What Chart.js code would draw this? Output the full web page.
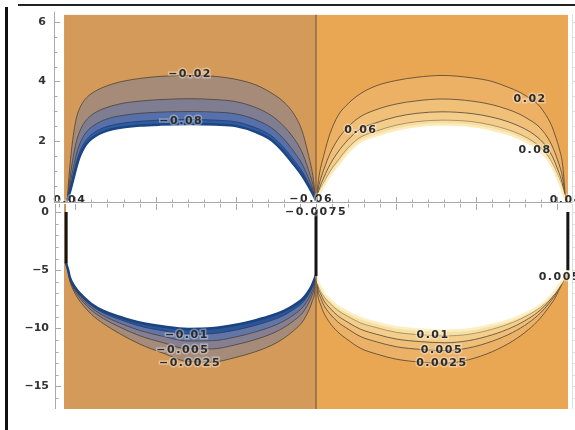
<!DOCTYPE html>
<html><head><meta charset="utf-8">
<script src="https://cdn.jsdelivr.net/npm/chart.js@4.4.1/dist/chart.umd.min.js"></script>
<style>
html,body{margin:0;padding:0;background:#fff;width:575px;height:430px;overflow:hidden;}
#wrap{position:relative;width:575px;height:430px;}
canvas{position:absolute;left:0;top:0;}
#bl{position:absolute;left:5px;top:7px;width:2.5px;height:423px;background:#111;}
#bt{position:absolute;left:18px;top:4px;width:557px;height:2px;background:#222;}
</style></head><body>
<div id="wrap"><canvas id="ctop" width="575" height="430"></canvas><canvas id="cbot" width="575" height="430"></canvas><div id="bl"></div><div id="bt"></div></div>
<script>
const PI = Math.PI;
// ---------- top plot (y >= 0) ----------
const TL_X    = [-3.1,-3.086,-3.067,-3.042,-3.011,-2.98,-2.943,-2.893,-2.83,-2.755,-2.656,-2.531,-2.381,-2.194,-1.945,-1.571,-1.259,-0.997,-0.748,-0.549,-0.399,-0.274,-0.175,-0.1,-0.04,0];
const TL_M002 = [0,0.6,1.2,1.85,2.45,2.85,3.12,3.35,3.53,3.67,3.8,3.92,4.02,4.1,4.17,4.2,4.17,4.07,3.88,3.6,3.3,2.9,2.35,1.6,0.85,0];
const TL_M004 = [0,0.37,0.77,1.23,1.7,2.06,2.34,2.6,2.8,2.95,3.08,3.19,3.28,3.34,3.39,3.42,3.39,3.32,3.12,2.84,2.49,2.08,1.63,1.08,0.55,0];
const TL_M006 = [0,0.24,0.53,0.89,1.29,1.63,1.92,2.19,2.4,2.55,2.69,2.8,2.87,2.93,2.97,2.99,2.97,2.91,2.71,2.43,2.06,1.64,1.24,0.8,0.38,0];
const TL_M008 = [0,0.16,0.38,0.67,1.02,1.35,1.65,1.92,2.14,2.3,2.44,2.54,2.61,2.66,2.7,2.72,2.7,2.64,2.44,2.16,1.77,1.35,0.99,0.62,0.28,0];
const TL_EDGE = [0,0.12,0.3,0.55,0.88,1.2,1.5,1.78,2.0,2.16,2.3,2.4,2.47,2.52,2.55,2.57,2.55,2.5,2.3,2.02,1.62,1.2,0.85,0.52,0.22,0];

const TR_X    = [0,0.04,0.1,0.175,0.274,0.399,0.549,0.748,0.997,1.259,1.571,1.945,2.194,2.381,2.531,2.656,2.755,2.83,2.893,2.943,2.98,3.011,3.042,3.067,3.086,3.11];
const TR_P002 = [0,0.85,1.55,2.25,2.85,3.25,3.58,3.85,4.03,4.14,4.2,4.12,4.0,3.82,3.65,3.45,3.26,3.02,2.75,2.48,2.2,1.95,1.65,1.35,0.9,0];
const TR_P004 = [0,0.55,1.06,1.58,2.06,2.47,2.81,3.05,3.24,3.35,3.41,3.34,3.22,3.07,2.91,2.72,2.54,2.33,2.09,1.84,1.6,1.37,1.12,0.87,0.55,0];
const TR_P006 = [0,0.38,0.79,1.21,1.63,2.04,2.4,2.61,2.81,2.93,2.98,2.92,2.8,2.66,2.5,2.33,2.14,1.95,1.74,1.5,1.28,1.06,0.84,0.61,0.37,0];
const TR_P008 = [0,0.28,0.61,0.98,1.35,1.77,2.12,2.33,2.53,2.65,2.7,2.65,2.53,2.39,2.24,2.07,1.89,1.71,1.5,1.27,1.06,0.86,0.65,0.44,0.24,0];
const TR_EDGE = [0,0.22,0.52,0.85,1.2,1.62,1.98,2.18,2.38,2.5,2.55,2.5,2.38,2.25,2.1,1.93,1.75,1.58,1.38,1.15,0.95,0.75,0.55,0.35,0.18,0];

// ---------- bottom plot (y <= 0) ----------
const BL_X     = [-3.12,-3.09,-3.07,-3.03,-2.98,-2.9,-2.8,-2.65,-2.45,-2.2,-1.9,-1.6,-1.3,-1.0,-0.75,-0.55,-0.4,-0.27,-0.17,-0.1,-0.05,-0.015,0];
const BL_EDGE  = [-4.3,-5.0,-5.6,-6.2,-6.7,-7.3,-7.9,-8.5,-9.0,-9.5,-9.85,-10.05,-10.0,-9.7,-9.3,-8.9,-8.5,-8.0,-7.5,-6.9,-6.3,-5.7,-5.4];
const BL_M01   = [-4.3,-5.02,-5.65,-6.27,-6.8,-7.42,-8.04,-8.68,-9.23,-9.8,-10.22,-10.5,-10.46,-10.15,-9.73,-9.31,-8.88,-8.34,-7.81,-7.17,-6.53,-5.88,-5.4];
const BL_M0075 = [-4.3,-5.06,-5.71,-6.37,-6.92,-7.58,-8.23,-8.91,-9.54,-10.18,-10.7,-11.09,-11.07,-10.74,-10.3,-9.84,-9.37,-8.8,-8.22,-7.53,-6.84,-6.11,-5.4];
const BL_M005  = [-4.3,-5.09,-5.78,-6.47,-7.07,-7.76,-8.45,-9.17,-9.88,-10.63,-11.25,-11.76,-11.77,-11.41,-10.95,-10.46,-9.93,-9.31,-8.69,-7.94,-7.18,-6.37,-5.4];
const BL_M0025 = [-4.3,-5.15,-5.9,-6.65,-7.3,-8.05,-8.8,-9.6,-10.45,-11.35,-12.15,-12.85,-12.9,-12.5,-12.0,-11.45,-10.85,-10.15,-9.45,-8.6,-7.75,-6.8,-5.4];

const BR_X     = [0,0.02,0.06,0.1,0.17,0.27,0.4,0.55,0.75,1.0,1.3,1.6,1.9,2.2,2.45,2.65,2.8,2.9,2.98,3.03,3.07,3.1,3.14];
const BR_EDGE  = [-5.4,-5.9,-6.5,-7.0,-7.5,-8.1,-8.6,-9.1,-9.5,-9.9,-10.1,-10.2,-10.1,-9.7,-9.2,-8.6,-8.0,-7.4,-6.8,-6.3,-5.9,-5.5,-4.9];
const BR_P01   = [-5.4,-6.08,-6.74,-7.27,-7.82,-8.45,-8.98,-9.52,-9.93,-10.34,-10.55,-10.65,-10.52,-10.07,-9.5,-8.84,-8.18,-7.53,-6.9,-6.36,-5.94,-5.52,-4.9];
const BR_P0075 = [-5.4,-6.31,-7.06,-7.63,-8.24,-8.91,-9.49,-10.06,-10.5,-10.92,-11.14,-11.24,-11.06,-10.55,-9.9,-9.16,-8.41,-7.7,-7.02,-6.45,-5.99,-5.54,-4.9];
const BR_P005  = [-5.4,-6.57,-7.42,-8.04,-8.72,-9.44,-10.06,-10.69,-11.15,-11.58,-11.81,-11.91,-11.69,-11.1,-10.36,-9.52,-8.67,-7.89,-7.17,-6.54,-6.05,-5.56,-4.9];
const BR_P0025 = [-5.4,-7.0,-8.0,-8.7,-9.5,-10.3,-11.0,-11.7,-12.2,-12.65,-12.9,-13.0,-12.7,-12.0,-11.1,-10.1,-9.1,-8.2,-7.4,-6.7,-6.15,-5.6,-4.9];

// contour labels
const TOP_LABELS  = ['\u22120.02','\u22120.08','0.04','\u22120.06','0.02','0.06','0.08','0.04'];
const TOP_LABEL_X = [-1.57,-1.68,-3.07,-0.06,2.67,0.56,2.73,3.12];
const TOP_LABEL_Y = [4.23,2.68,0.03,0.05,3.39,2.38,1.7,0.03];
const BOT_LABELS  = ['\u22120.0075','\u22120.01','\u22120.005','\u22120.0025','0.01','0.005','0.0025','0.005'];
const BOT_LABEL_X = [0.0,-1.61,-1.66,-1.57,1.46,1.57,1.57,3.04];
const BOT_LABEL_Y = [-0.05,-10.6,-11.9,-12.95,-10.6,-11.9,-13.0,-5.6];

// axes
const X_TICKS = [-3.2,-3,-2.8,-2.6,-2.4,-2.2,-2,-1.8,-1.6,-1.4,-1.2,-1,-0.8,-0.6,-0.4,-0.2,0,0.2,0.4,0.6,0.8,1,1.2,1.4,1.6,1.8,2,2.2,2.4,2.6,2.8,3];
const TOP_Y_TICKS = [0,0.5,1,1.5,2,2.5,3,3.5,4,4.5,5,5.5,6];
const TOP_Y_LABELED = [0,2,4,6];
const BOT_Y_TICKS = [0,-1,-2,-3,-4,-5,-6,-7,-8,-9,-10,-11,-12,-13,-14,-15,-16];
const BOT_Y_LABELED = [0,-5,-10,-15];
const YT_MIN = -0.081, YT_MAX = 6.243;
const YB_MIN = -16.935, YB_MAX = 0.688;
const XT_MIN = -3.2666, XT_MAX = 3.1916;
const XB_MIN = -3.254,  XB_MAX = 3.1916;

// ---------- helpers ----------
function pts(xs, ys){ return xs.map((x,i)=>({x:x, y:ys[i]})); }
function band(xs, ys, fillColor, fillTo, lineColor, lw){
  return {data: pts(xs,ys), backgroundColor: fillColor, fill: fillTo,
    borderColor: lineColor || 'rgba(0,0,0,0)', borderWidth: lw || 1,
    pointRadius: 0, cubicInterpolationMode: 'monotone', clip: 0};
}
function seg(xs, ys, color, lw){
  return {data: pts(xs,ys), fill: false, borderColor: color, borderWidth: lw,
    pointRadius: 0, tension: 0, clip: 0, borderCapStyle: 'butt'};
}
function ordered(list){ list.forEach((d,i)=>{ d.order = -i; }); return list; }
function fmt(v){ return String(v).replace('-', '\u2212'); }
function isMult(v, m){ return Math.abs(v/m - Math.round(v/m)) < 1e-6; }
function L(ctx,x1,y1,x2,y2){ ctx.beginPath(); ctx.moveTo(x1,y1); ctx.lineTo(x2,y2); ctx.stroke(); }

const CLINE = 'rgba(70,60,52,0.75)';
const TAN = '#d49a5a', ORANGE = '#e9a653';

function labelPlugin(texts, xs, ys){
  return { id: 'contourLabels', afterDatasetsDraw(chart){
    const {ctx, scales:{x, y}} = chart;
    ctx.save();
    ctx.font = 'bold 11px "DejaVu Sans"';
    ctx.letterSpacing = '1.5px';
    ctx.textAlign = 'center'; ctx.textBaseline = 'middle';
    texts.forEach((t,i)=>{
      const px = x.getPixelForValue(xs[i]), py = y.getPixelForValue(ys[i]);
      ctx.lineWidth = 3; ctx.strokeStyle = 'rgba(255,255,255,0.35)';
      ctx.strokeText(t, px, py);
      ctx.fillStyle = '#2c2c2c';
      ctx.fillText(t, px, py);
    });
    ctx.restore();
  }};
}

function framePlugin(isTop, majorY){
  return { id: 'frame', afterDraw(chart){
    const {ctx, chartArea: a, scales:{x, y}} = chart;
    ctx.save();
    ctx.lineWidth = 1; ctx.strokeStyle = '#a9a9a9';
    L(ctx, a.left+0.5, a.top - (isTop?3:0), a.left+0.5, a.bottom);
    if (isTop) L(ctx, a.left, a.bottom-0.5, a.right, a.bottom-0.5);
    X_TICKS.forEach(v=>{
      const px = Math.round(x.getPixelForValue(v))+0.5;
      const len = isMult(v,1) ? 6 : 3.5;
      if (isTop) L(ctx, px, a.bottom, px, a.bottom-len);
      else L(ctx, px, a.top, px, a.top+len);
    });
    y.ticks.forEach(t=>{
      const py = Math.round(y.getPixelForValue(t.value))+0.5;
      const major = isMult(t.value, majorY);
      ctx.strokeStyle = '#a9a9a9';
      L(ctx, a.left, py, a.left+(major?6:3.5), py);
      ctx.strokeStyle = '#d6d6d6';
      L(ctx, a.right, py, a.right+(major?4:2.5), py);
    });
    ctx.strokeStyle = '#dedede';
    L(ctx, a.right+0.5, a.top, a.right+0.5, a.bottom);
    ctx.restore();
  }};
}

function baseOptions(xmin, xmax, ymin, ymax, tickVals, labeled, pad, yWidth, tickPad){
  return {
    responsive: false, animation: false, devicePixelRatio: 1,
    layout: {padding: pad},
    plugins: {legend:{display:false}, tooltip:{enabled:false}},
    events: [],
    scales: {
      x: {type:'linear', min:xmin, max:xmax, display:false},
      y: {type:'linear', min:ymin, max:ymax,
          grid:{display:false, drawTicks:false}, border:{display:false},
          afterFit: s => { s.width = yWidth; },
          afterBuildTicks: s => { s.ticks = tickVals.map(v => ({value: v})); },
          ticks:{autoSkip:false, padding:tickPad, color:'#333',
                 font:{family:'DejaVu Sans', size:11, weight:'bold'},
                 callback: v => labeled.some(l => Math.abs(l-v) < 1e-6) ? fmt(Math.round(v)) : ''}}
    }
  };
}

// ---------- top chart ----------
const topSets = ordered([
  band([-PI,0],[YT_MAX,YT_MAX], TAN, 'start'),
  band([0,PI],[YT_MAX,YT_MAX], ORANGE, 'start'),
  band(TL_X, TL_M002, '#a68c78', 'start', CLINE, 1),
  band(TL_X, TL_M004, '#7f7d92', 'start', CLINE, 1),
  band(TL_X, TL_M006, '#5570aa', 'start', CLINE, 1),
  band(TL_X, TL_M008, '#2f5ba2', 'start', 'rgba(40,60,100,0.8)', 1),
  band(TL_X, TL_EDGE, '#ffffff', 'start', '#1c4584', 2.5),
  band(TR_X, TR_P002, '#ecb165', 'start', CLINE, 1),
  band(TR_X, TR_P004, '#f0bf78', 'start', CLINE, 1),
  band(TR_X, TR_P006, '#f4cd8a', 'start', CLINE, 1),
  band(TR_X, TR_P008, '#f8dd9f', 'start', 'rgba(120,105,80,0.6)', 1),
  band(TR_X, TR_EDGE, '#ffffff', 'start', '#fcecbb', 2.5),
  seg([0,0],[YT_MAX,0], '#8a6a48', 1.5)
]);
new Chart(document.getElementById('ctop'), {
  type: 'line',
  data: {datasets: topSets},
  options: baseOptions(XT_MIN, XT_MAX, YT_MIN, YT_MAX, TOP_Y_TICKS, TOP_Y_LABELED, {left:0, top:8, right:3, bottom:227}, 54, 8),
  plugins: [labelPlugin(TOP_LABELS, TOP_LABEL_X, TOP_LABEL_Y), framePlugin(true, 2)]
});

// ---------- bottom chart ----------
const botSets = ordered([
  band([-PI,0],[YB_MAX,YB_MAX], TAN, 'start'),
  band([0,PI],[YB_MAX,YB_MAX], ORANGE, 'start'),
  band(BL_X, BL_M0025, '#a58b79', 'end', CLINE, 1),
  band(BL_X, BL_M005, '#857f91', 'end', CLINE, 1),
  band(BL_X, BL_M0075, '#6176a6', 'end', CLINE, 1),
  band(BL_X, BL_M01, '#2b5597', 'end', 'rgba(40,60,100,0.8)', 1),
  band(BL_X, BL_EDGE, '#ffffff', 'end', '#1a4380', 2.5),
  band(BR_X, BR_P0025, '#ebb167', 'end', CLINE, 1),
  band(BR_X, BR_P005, '#efbf78', 'end', CLINE, 1),
  band(BR_X, BR_P0075, '#f3cf8b', 'end', CLINE, 1),
  band(BR_X, BR_P01, '#f8e0a3', 'end', 'rgba(120,105,80,0.6)', 1),
  band(BR_X, BR_EDGE, '#ffffff', 'end', '#fcefc4', 2.5),
  seg([0,0],[-5.4,YB_MIN], '#8a6a48', 1.5),
  seg([-3.115,-3.115],[0,-4.4], '#141414', 3),
  seg([0,0],[0,-5.5], '#141414', 3),
  seg([3.14,3.14],[0,-5.0], '#141414', 3)
]);
new Chart(document.getElementById('cbot'), {
  type: 'line',
  data: {datasets: botSets},
  options: baseOptions(XB_MIN, XB_MAX, YB_MIN, YB_MAX, BOT_Y_TICKS, BOT_Y_LABELED, {left:0, top:204, right:3, bottom:21}, 55, 6),
  plugins: [labelPlugin(BOT_LABELS, BOT_LABEL_X, BOT_LABEL_Y), framePlugin(false, 5)]
});
</script>
</body></html>
